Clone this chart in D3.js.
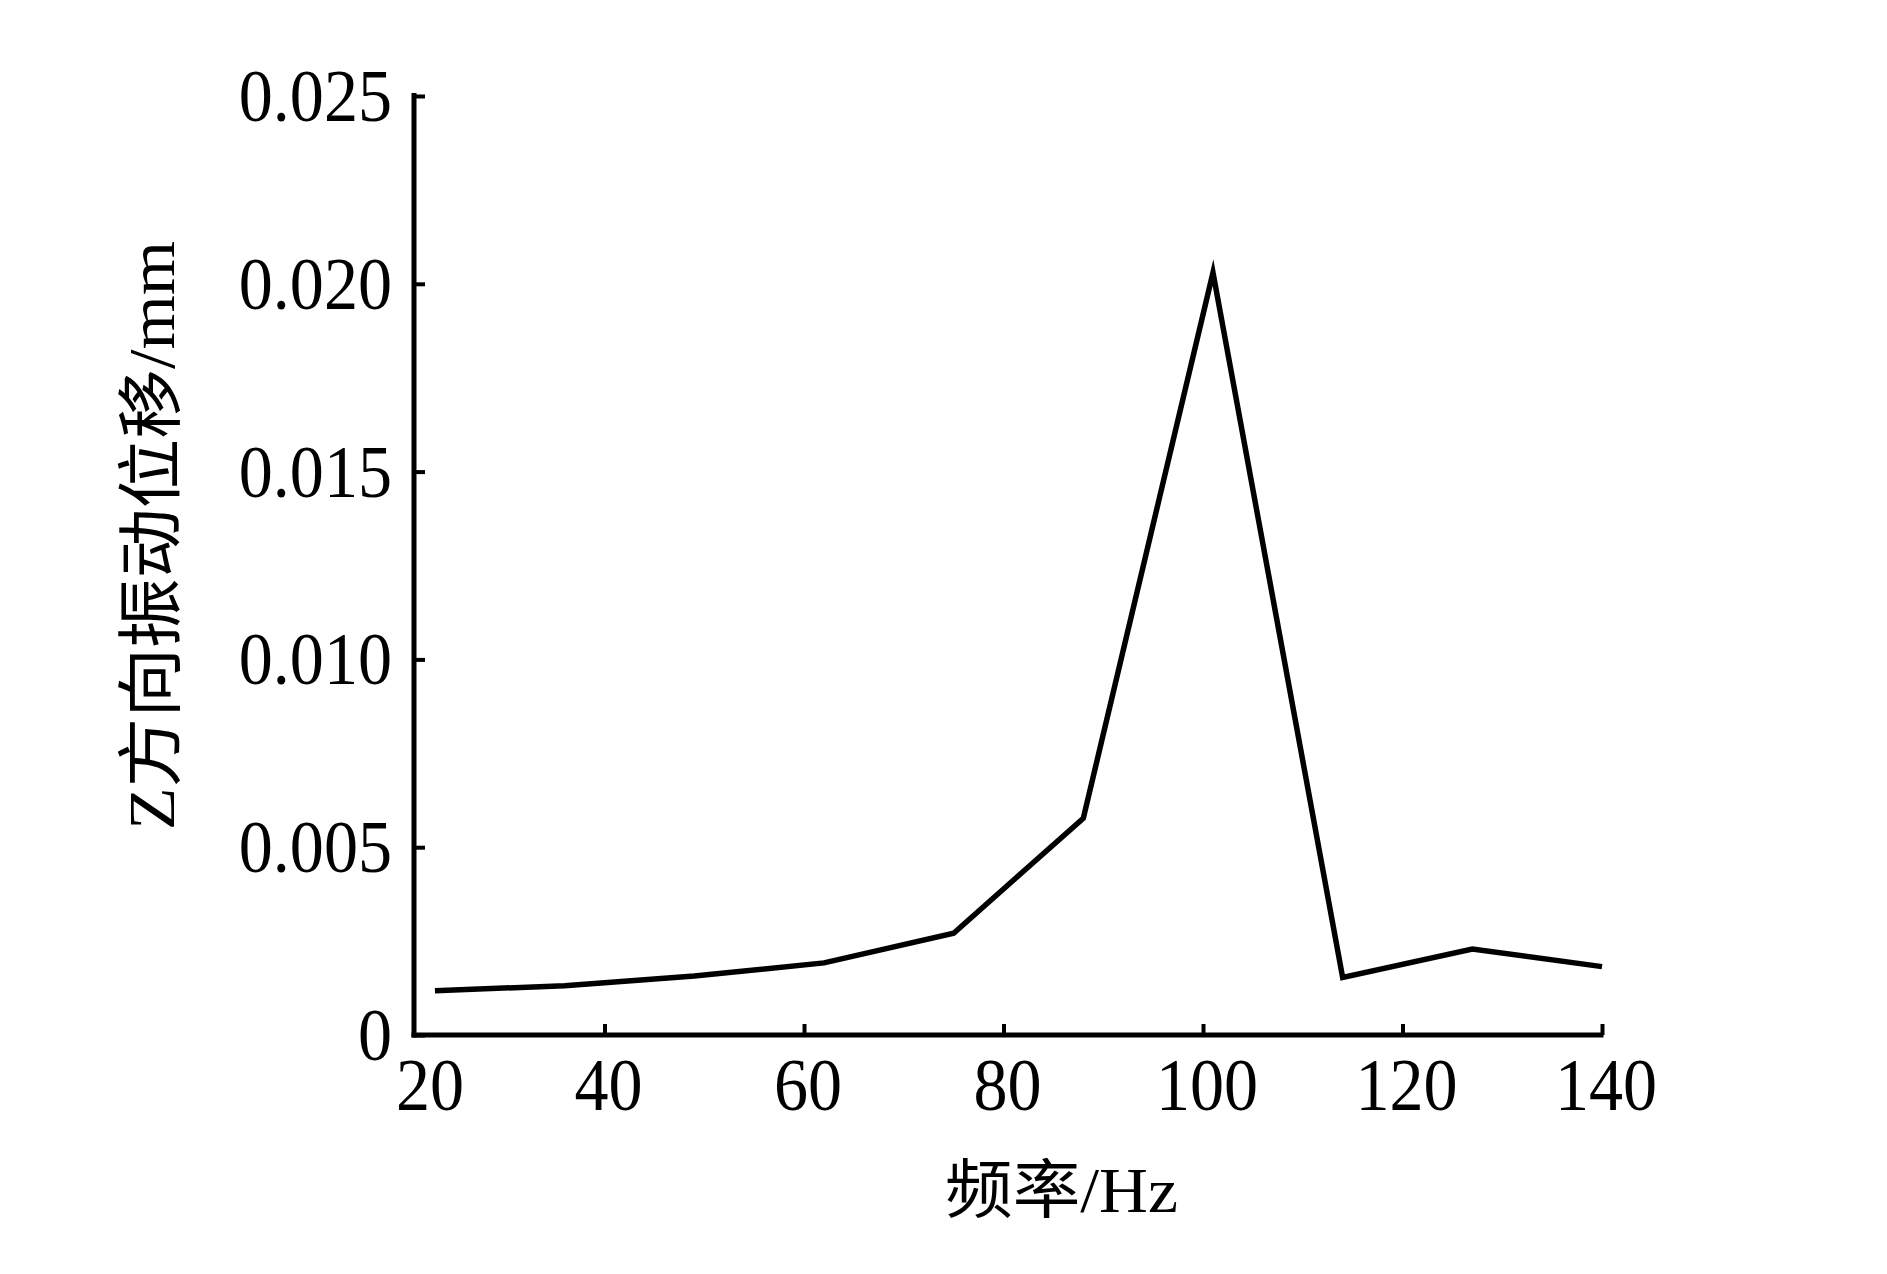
<!DOCTYPE html>
<html>
<head>
<meta charset="utf-8">
<script src="https://cdn.jsdelivr.net/npm/d3@7"></script>
<style>
  html, body { margin: 0; padding: 0; background: #fff; }
  svg { display: block; }
</style>
</head>
<body>
<script>
// ---- data ----
const freq = [23, 36, 49, 62, 75, 88, 101, 114, 127, 140];
const disp = [0.00118, 0.00131, 0.00157, 0.00192, 0.00271, 0.00577, 0.0203, 0.00153, 0.00229, 0.00182];
const xTicks = [20, 40, 60, 80, 100, 120, 140];
const xTickLabels = ["20", "40", "60", "80", "100", "120", "140"];
const yTicks = [0, 0.005, 0.010, 0.015, 0.020, 0.025];
const yTickLabels = ["0", "0.005", "0.010", "0.015", "0.020", "0.025"];
const xTitle = "频率/Hz";
const yTitle = "Z方向振动位移/mm";
const xLimits = [20.9, 140];
const yLimits = [0, 0.025];

(function () {
// ---- layout ----
const W = 1887, H = 1274;
const mLeft = 414, mRight = 1602, mTop = 96, mBottom = 1035;
const numFont = "'Liberation Serif','Times New Roman',serif";
const cjkFont = "'Liberation Serif','Noto Sans CJK SC',serif";

const svg = d3.select("body").append("svg").attr("width", W).attr("height", H);
svg.append("rect").attr("width", W).attr("height", H).attr("fill", "#fff");

const x = d3.scaleLinear().domain(xLimits).range([mLeft, mRight]);
const y = d3.scaleLinear().domain(yLimits).range([mBottom, mTop]);

// x axis ticks (inward)
const gx = svg.append("g").attr("transform", `translate(0,${mBottom})`)
  .call(d3.axisBottom(x).tickValues(xTicks.filter(v => v >= xLimits[0]))
    .tickSizeInner(-11).tickSizeOuter(0).tickFormat(""));
gx.select(".domain").remove();
gx.selectAll(".tick line").attr("stroke", "#000").attr("stroke-width", 4);

// y axis ticks (inward)
const gy = svg.append("g").attr("transform", `translate(${mLeft},0)`)
  .call(d3.axisLeft(y).tickValues(yTicks).tickSizeInner(-11).tickSizeOuter(0).tickFormat(""));
gy.select(".domain").remove();
gy.selectAll(".tick line").attr("stroke", "#000").attr("stroke-width", 4);

// axis lines
svg.append("line").attr("x1", x(xLimits[0])).attr("x2", x(xLimits[0]))
  .attr("y1", y(yLimits[1]) - 3).attr("y2", y(yLimits[0]) + 2.5)
  .attr("stroke", "#000").attr("stroke-width", 5);
svg.append("line").attr("x1", x(xLimits[0]) - 2.5).attr("x2", x(xLimits[1]) + 1.5)
  .attr("y1", y(yLimits[0])).attr("y2", y(yLimits[0]))
  .attr("stroke", "#000").attr("stroke-width", 5);

// tick labels (slightly horizontally condensed, as in the reference)
function condense(sel, factor) {
  sel.each(function () {
    const len = this.getComputedTextLength();
    d3.select(this).attr("textLength", len * factor).attr("lengthAdjust", "spacingAndGlyphs");
  });
}

const xl = svg.append("g").selectAll("text").data(xTicks).join("text")
  .attr("x", (d) => Math.max(x(d), x(xLimits[0])) + (d < xLimits[0] ? 16 : 4))
  .attr("y", mBottom + 75)
  .attr("text-anchor", "middle")
  .attr("font-family", numFont).attr("font-size", 74).attr("fill", "#000")
  .text((d, i) => xTickLabels[i]);
condense(xl, 0.92);

const yl = svg.append("g").selectAll("text").data(yTicks).join("text")
  .attr("x", mLeft - 22)
  .attr("y", (d) => y(d) + 25)
  .attr("text-anchor", "end")
  .attr("font-family", numFont).attr("font-size", 74).attr("fill", "#000")
  .text((d, i) => yTickLabels[i]);
condense(yl, 0.92);

// data line
const line = d3.line().x((d, i) => x(freq[i])).y((d) => y(d));
svg.append("path").datum(disp).attr("d", line)
  .attr("fill", "none").attr("stroke", "#000").attr("stroke-width", 5.5)
  .attr("stroke-linejoin", "miter").attr("stroke-miterlimit", 10);

// titles
svg.append("text").attr("x", 945).attr("y", 1212)
  .attr("font-family", cjkFont).attr("font-size", 64).attr("fill", "#000")
  .attr("textLength", 233).attr("lengthAdjust", "spacingAndGlyphs")
  .text(xTitle);

svg.append("text")
  .attr("transform", `translate(174,830) rotate(-90)`)
  .attr("font-family", cjkFont).attr("font-size", 66).attr("fill", "#000")
  .attr("textLength", 589).attr("lengthAdjust", "spacingAndGlyphs")
  .text(yTitle);
})();
</script>
</body>
</html>
